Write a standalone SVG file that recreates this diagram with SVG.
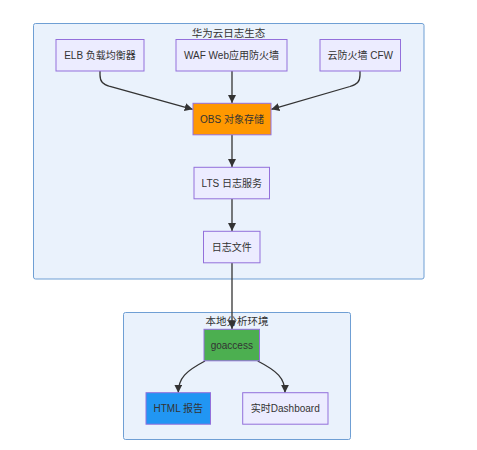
<svg xmlns="http://www.w3.org/2000/svg" width="477" height="450" viewBox="0 0 477 450">
<style>
.cluster{fill:#eaf2fc;stroke:#6f9fd4;stroke-width:1}
.node{fill:#ececff;stroke:#9370db;stroke-width:1}
.lbl{font-family:"Liberation Sans","Noto Sans CJK SC",sans-serif;font-size:10px;fill:#333;text-anchor:middle;dominant-baseline:central}
.ctitle{font-family:"Liberation Sans","Noto Sans CJK SC",sans-serif;font-size:10.5px;fill:#333;text-anchor:middle;dominant-baseline:central}
.edge{fill:none;stroke:#333;stroke-width:1.3}
</style>
<defs>
<marker id="arr" markerUnits="userSpaceOnUse" viewBox="0 0 10 10" refX="10" refY="5" markerWidth="8" markerHeight="8" orient="auto">
<path d="M0,0 L10,5 L0,10 z" fill="#333"/>
</marker>
</defs>
<rect width="477" height="450" fill="#ffffff"/>
<g id="cluster-huawei">
<rect class="cluster" x="33.5" y="23.5" width="390.5" height="255.5" rx="2"/>
<text class="ctitle" x="228.5" y="32.5">华为云日志生态</text>
</g>
<g id="cluster-local">
<rect class="cluster" x="123.5" y="312.5" width="227" height="127" rx="2"/>
<text class="ctitle" x="237" y="321">本地分析环境</text>
</g>
<g id="edges">
<path class="edge" d="M100,71 L100,75 C100,82 103,84 110,86.5 L192.7,109.3" marker-end="url(#arr)"/>
<path class="edge" d="M232,71 L232,103" marker-end="url(#arr)"/>
<path class="edge" d="M360,71 L360,75 C360,82 357,84 350,86.5 L271.3,109.3" marker-end="url(#arr)"/>
<path class="edge" d="M232,135 L232,167" marker-end="url(#arr)"/>
<path class="edge" d="M232,199 L232,231" marker-end="url(#arr)"/>
<path class="edge" d="M232,263 L232,329" marker-end="url(#arr)"/>
<path class="edge" d="M205,361 C186,371 178.3,378 178.3,392.7" marker-end="url(#arr)"/>
<path class="edge" d="M257.7,361 C277,371 285,378 285,392.7" marker-end="url(#arr)"/>
</g>
<g id="node-elb">
<rect class="node" x="56" y="39.5" width="88" height="31.5"/>
<text class="lbl" x="100" y="55.2">ELB 负载均衡器</text>
</g>
<g id="node-waf">
<rect class="node" x="176" y="39.5" width="111" height="31.5"/>
<text class="lbl" x="231.5" y="55.2">WAF Web应用防火墙</text>
</g>
<g id="node-cfw">
<rect class="node" x="320" y="39.5" width="80.5" height="31.5"/>
<text class="lbl" x="360.2" y="55.2">云防火墙 CFW</text>
</g>
<g id="node-obs">
<rect class="node" x="193" y="103.3" width="78" height="31.5" style="fill:#ff9800"/>
<text class="lbl" x="232" y="119">OBS 对象存储</text>
</g>
<g id="node-lts">
<rect class="node" x="194" y="167.3" width="75.5" height="31.5"/>
<text class="lbl" x="231.8" y="183">LTS 日志服务</text>
</g>
<g id="node-logfile">
<rect class="node" x="203.5" y="231.3" width="56.5" height="31.5"/>
<text class="lbl" x="231.8" y="247">日志文件</text>
</g>
<g id="node-goaccess">
<rect class="node" x="204" y="329.3" width="55.5" height="31.5" style="fill:#4caf50"/>
<text class="lbl" x="231.8" y="345">goaccess</text>
</g>
<g id="node-html">
<rect class="node" x="146" y="392.7" width="64.5" height="31.5" style="fill:#2196f3"/>
<text class="lbl" x="178.3" y="408.5">HTML 报告</text>
</g>
<g id="node-dashboard">
<rect class="node" x="242.7" y="392.7" width="85.3" height="31.5"/>
<text class="lbl" x="285.3" y="408.5">实时Dashboard</text>
</g>
</svg>
